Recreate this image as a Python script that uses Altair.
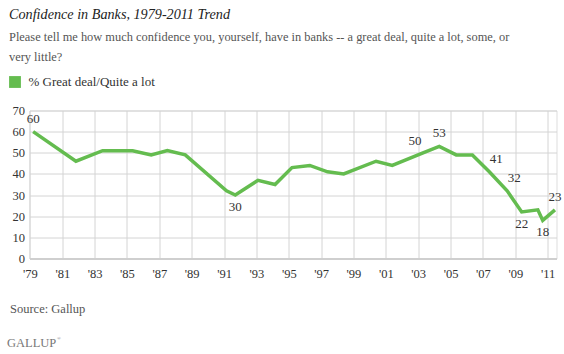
import altair as alt
import pandas as pd

GREEN = "#64bc4f"
FONT = "'Liberation Serif', 'DejaVu Serif', serif"

# Survey dates and % Great deal/Quite a lot
dates = ["1979-03-15", "1981-11-05", "1983-07-01", "1985-05-08", "1986-07-01",
         "1987-07-01", "1988-08-08", "1991-02-25", "1991-09-12", "1993-02-05",
         "1994-02-25", "1995-03-15", "1996-04-20", "1997-05-25", "1998-05-25",
         "2000-05-25", "2001-05-25", "2003-04-20", "2004-04-20", "2005-05-08",
         "2006-05-08", "2007-05-25", "2008-07-01", "2009-05-25", "2010-05-25",
         "2010-09-12", "2011-06-15"]
values = [60, 46, 51, 51, 49, 51, 49, 32, 30, 37, 35, 43, 44, 41, 40,
          46, 44, 50, 53, 49, 49, 41, 32, 22, 23, 18, 23]
# which points carry a value label, and where
label_place = ["above", "", "", "", "", "", "", "", "below", "", "", "", "", "", "",
               "", "", "aboveleft", "above", "", "", "aboveright", "aboveright",
               "below", "", "below", "above"]

tick_years = [1979, 1981, 1983, 1985, 1987, 1989, 1991, 1993, 1995, 1997,
              1999, 2001, 2003, 2005, 2007, 2009, 2011]
y_ticks = [0, 10, 20, 30, 40, 50, 60, 70]

series_name = "% Great deal/Quite a lot"
title_text = "Confidence in Banks, 1979-2011 Trend"
subtitle_lines = ["Please tell me how much confidence you, yourself, have in banks -- a great deal, quite a lot, some, or",
                  "very little?"]
source_text = "Source: Gallup"

df = pd.DataFrame({"date": dates, "pct": values, "place": label_place,
                   "series": [series_name] * len(dates)})

W, H = 527, 148
PAD_L, PAD_T = 29.5, 110.5

x_enc = alt.X("date:T",
              scale=alt.Scale(domain=[alt.DateTime(year=1978, month=12, date=23),
                                      alt.DateTime(year=2011, month=7, date=20)]),
              axis=alt.Axis(values=[alt.DateTime(year=y, month=1, date=1) for y in tick_years],
                            labelExpr="\"'\" + timeFormat(datum.value, '%y')",
                            title=None, ticks=False, grid=True, gridColor="#d4d4d4",
                            domainColor="#cfcfcf", domainWidth=2,
                            labelFont=FONT, labelFontSize=12.5, labelColor="#333",
                            labelPadding=9, labelFlush=False, labelOverlap=False))
y_enc = alt.Y("pct:Q", scale=alt.Scale(domain=[0, 70], nice=False),
              axis=alt.Axis(values=y_ticks, title=None, ticks=False, domain=False,
                            grid=True, gridColor="#d4d4d4", labelOverlap=False,
                            labelFont=FONT, labelFontSize=12.5, labelColor="#333",
                            labelPadding=5))

base = alt.Chart(df).encode(x=x_enc, y=y_enc)

line = base.mark_line(strokeWidth=3.5).encode(
    color=alt.Color("series:N", scale=alt.Scale(range=[GREEN]),
                    legend=alt.Legend(title=None, orient="none", legendX=-21, legendY=-35,
                                      symbolType="square", symbolSize=140,
                                      symbolFillColor=GREEN, symbolStrokeWidth=0,
                                      labelFont=FONT, labelFontSize=13, labelColor="#333",
                                      labelOffset=7, padding=0)))

offsets = {"above": (0, -13), "below": (0, 12), "aboveleft": (-8, -12), "aboveright": (7, -13)}
label_layers = []
for place, (dx, dy) in offsets.items():
    label_layers.append(
        base.transform_filter(alt.datum.place == place)
        .mark_text(dx=dx, dy=dy, font=FONT, fontSize=13, color="#333", baseline="middle")
        .encode(text="pct:Q"))


def note(text, x, y, size, color, style="normal"):
    return alt.Chart(alt.Data(values=[{}])).mark_text(
        text=text, font=FONT, fontSize=size, color=color, fontStyle=style,
        align="left", baseline="alphabetic", lineHeight=20
    ).encode(x=alt.value(x), y=alt.value(y))


texts = [
    note(title_text, 9 - PAD_L, 19 - PAD_T, 14.2, "#222", "italic"),
    note(subtitle_lines, 9 - PAD_L, 41 - PAD_T, 12.4, "#555"),
    note(source_text, 10 - PAD_L, 313 - PAD_T, 12.5, "#555"),
    note("GALLUP", 7 - PAD_L, 347 - PAD_T, 12.5, "#777"),
    note("®", 57 - PAD_L, 340 - PAD_T, 5, "#777"),
]

chart = alt.layer(line, *label_layers, *texts).properties(
    width=W, height=H,
    autosize=alt.AutoSizeParams(type="none"),
    padding={"left": PAD_L, "top": PAD_T, "right": 564 - PAD_L - W, "bottom": 354 - PAD_T - H},
).configure_view(stroke=None).configure(background="white")

chart.save("out.html", embed_options={"renderer": "svg", "actions": False})
